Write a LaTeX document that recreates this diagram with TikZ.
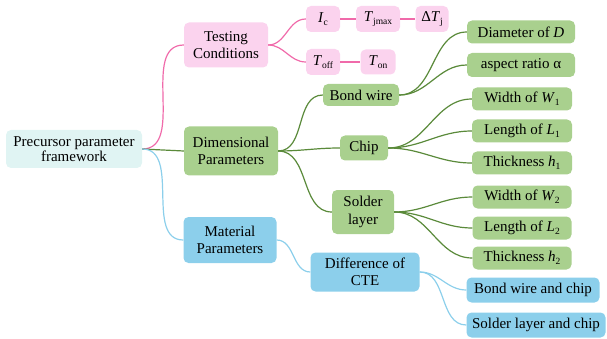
\documentclass[tikz,border=0pt]{standalone}
\usepackage{fontspec}
\setmainfont{Liberation Serif}
\usetikzlibrary{positioning}

\definecolor{rootfill}{HTML}{E0F4F3}
\definecolor{testfill}{HTML}{FBD3EE}
\definecolor{testline}{HTML}{F06AAA}
\definecolor{dimfill}{HTML}{A9D08E}
\definecolor{dimline}{HTML}{5A8A3A}
\definecolor{matfill}{HTML}{8CCFEB}
\definecolor{matline}{HTML}{8CCFEB}

% italic symbol with upright subscript
\newcommand{\qsym}[2]{\textit{#1}\raisebox{-0.45ex}{\fontsize{9.5}{9.5}\selectfont #2}}

\tikzset{
  box/.style={rounded corners=5pt, align=center, inner sep=2pt,
              font=\fontsize{15}{17.5}\selectfont},
  rootbox/.style={box, fill=rootfill, font=\fontsize{15}{13.5}\selectfont},
  testbox/.style={box, fill=testfill},
  dimbox/.style={box, fill=dimfill},
  matbox/.style={box, fill=matfill},
  testedge/.style={testline, line width=1.2pt},
  dimedge/.style={dimline, line width=1.2pt},
  matedge/.style={matline, line width=1.2pt},
}

\begin{document}
\begin{tikzpicture}[x=1pt, y=-1pt]
  \useasboundingbox (0,0) rectangle (607,339);

  % Root
  \node[rootbox, minimum width=136pt, minimum height=38pt] (root) at (74,149)
    {Precursor parameter\\framework};

  % First level
  \node[testbox, minimum width=84pt, minimum height=45pt] (test) at (226,45)
    {Testing\\Conditions};
  \node[dimbox, minimum width=94pt, minimum height=49pt] (dim) at (231,151)
    {Dimensional\\Parameters};
  \node[matbox, minimum width=93pt, minimum height=46pt] (mat) at (230,240)
    {Material\\Parameters};

  % Testing conditions
  \node[testbox, minimum width=34pt, minimum height=26pt] (ic) at (323,19) {\qsym{I}{c}};
  \node[testbox, minimum width=44pt, minimum height=26pt] (tjmax) at (378,19) {\qsym{T}{jmax}};
  \node[testbox, minimum width=33pt, minimum height=26pt] (dtj) at (432,19) {Δ\qsym{T}{j}};
  \node[testbox, minimum width=34pt, minimum height=26pt] (toff) at (323,62) {\qsym{T}{off}};
  \node[testbox, minimum width=35pt, minimum height=25pt] (ton) at (378,62) {\qsym{T}{on}};

  % Dimensional parameters
  \node[dimbox, minimum width=76pt, minimum height=22pt] (wire) at (361,95) {Bond wire};
  \node[dimbox, minimum width=48pt, minimum height=25pt] (chip) at (364,148) {Chip};
  \node[dimbox, minimum width=62pt, minimum height=44pt] (solder) at (363,212) {Solder\\layer};

  \node[dimbox, minimum width=108pt, minimum height=23pt] (diam) at (521,32) {Diameter of \textit{D}};
  \node[dimbox, minimum width=108pt, minimum height=24pt] (ratio) at (521,65) {aspect ratio α};

  \node[dimbox, minimum width=100pt, minimum height=23pt] (w1) at (522,99) {Width of \qsym{W}{1}};
  \node[dimbox, minimum width=100pt, minimum height=23pt] (l1) at (522,131) {Length of \qsym{L}{1}};
  \node[dimbox, minimum width=100pt, minimum height=23pt] (h1) at (522,163) {Thickness \qsym{h}{1}};

  \node[dimbox, minimum width=99pt, minimum height=23pt] (w2) at (522,197) {Width of \qsym{W}{2}};
  \node[dimbox, minimum width=99pt, minimum height=23pt] (l2) at (522,228) {Length of \qsym{L}{2}};
  \node[dimbox, minimum width=99pt, minimum height=23pt] (h2) at (522,258) {Thickness \qsym{h}{2}};

  % Material parameters
  \node[matbox, minimum width=109pt, minimum height=39pt] (cte) at (365,272) {Difference of\\CTE};
  \node[matbox, minimum width=133pt, minimum height=25pt] (bwc) at (533,290) {Bond wire and chip};
  \node[matbox, minimum width=139pt, minimum height=25pt] (slc) at (536,325) {Solder layer and chip};

  % Connectors
  \draw[testedge] (root.east) to[out=0, in=180] (test.west);
  \draw[dimedge] (root.east) -- (dim.west);
  \draw[matedge] (root.east) to[out=0, in=180] (mat.west);

  \foreach \t in {ic, toff}
    \draw[testedge] (test.east) to[out=0, in=180] (\t.west);
  \draw[testedge] (ic) -- (tjmax) (tjmax) -- (dtj) (toff) -- (ton);

  \foreach \t in {wire, chip, solder}
    \draw[dimedge] (dim.east) to[out=0, in=180] (\t.west);
  \foreach \t in {diam, ratio}
    \draw[dimedge] (wire.east) to[out=0, in=180] (\t.west);
  \foreach \t in {w1, l1, h1}
    \draw[dimedge] (chip.east) to[out=0, in=180] (\t.west);
  \foreach \t in {w2, l2, h2}
    \draw[dimedge] (solder.east) to[out=0, in=180] (\t.west);

  \draw[matedge] (mat.east) to[out=0, in=180] (cte.west);
  \foreach \t in {bwc, slc}
    \draw[matedge] (cte.east) to[out=0, in=180] (\t.west);
\end{tikzpicture}
\end{document}
